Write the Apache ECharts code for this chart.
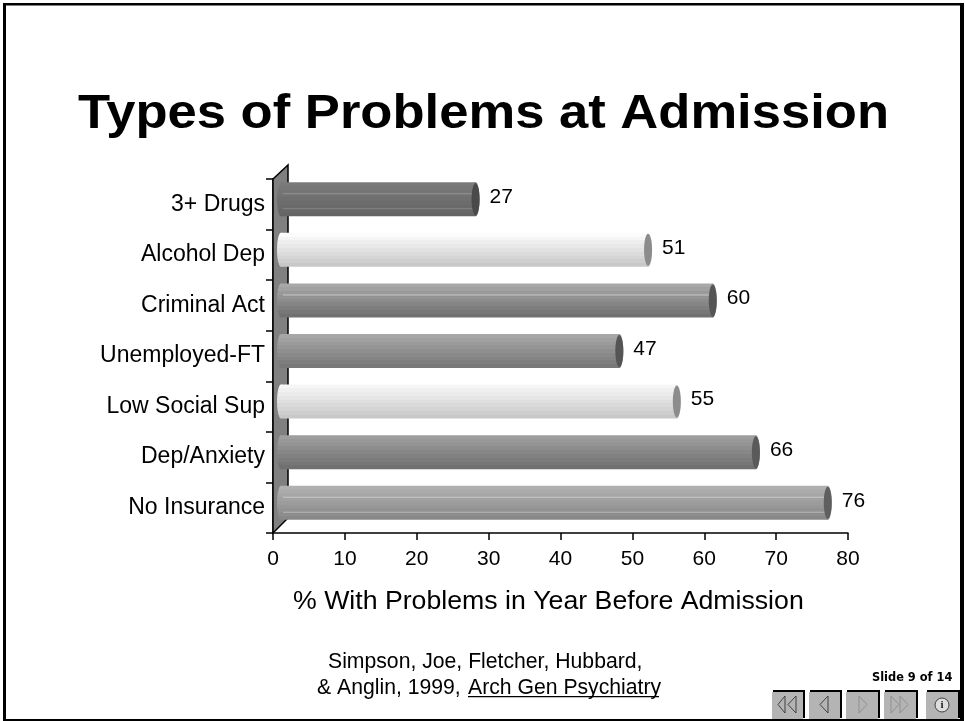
<!DOCTYPE html>
<html><head><meta charset="utf-8">
<style>html,body{margin:0;padding:0;background:#fff}#c{width:965px;height:721px}</style>
<script src="https://cdn.jsdelivr.net/npm/echarts@6/dist/echarts.min.js"></script>
</head><body><div id="c"></div>
<script>
const titleText = 'Types of Problems at Admission';
const categories = ['3+ Drugs','Alcohol Dep','Criminal Act','Unemployed-FT','Low Social Sup','Dep/Anxiety','No Insurance'];
const values = [27,51,60,47,55,66,76];
const xTicks = [0,80,10];
const xName = '% With Problems in Year Before Admission';
const cite1 = 'Simpson, Joe, Fletcher, Hubbard,';
const cite2a = '& Anglin, 1999, ';
const cite2b = 'Arch Gen Psychiatry';
const slideText = 'Slide 9 of 14';

// style tables: [top, bottom, cap, highlight]
const tones = [
  [0x7a,0x64,'#4a4a4a','#939393'],
  [0xfb,0xc8,'#8c8c8c',null],
  [0xa8,0x70,'#555555','#c8c8c8'],
  [0xa6,0x78,'#555555',null],
  [0xf6,0xc8,'#8c8c8c',null],
  [0x9e,0x70,'#5a5a5a',null],
  [0xb0,0x88,'#5f5f5f','#c8c8c8']
];
const DX = 8.5, DY = -5, DEPTH = 15, BAND = 34, RX = 4;

function stepped(top, bottom){
  const n = 9, stops = [];
  for(let k=0;k<n;k++){
    const v = Math.round(top + (bottom-top)*k/(n-1));
    const c = `rgb(${v},${v},${v})`;
    stops.push({offset:k/n,color:c},{offset:(k+1)/n,color:c});
  }
  return {type:'linear',x:0,y:0,x2:0,y2:1,colorStops:stops};
}

function renderBar(params, api){
  const i = api.value(1), v = api.value(0);
  const p0 = api.coord([0,i]), p1 = api.coord([v,i]);
  const cy = p0[1]+DY, x0 = p0[0]+4, x1 = p1[0]+DX;
  const t = tones[i], fill = stepped(t[0],t[1]), top = cy-BAND/2;
  const kids = [
    {type:'ellipse',shape:{cx:x0+RX,cy:cy,rx:RX,ry:BAND/2},style:{fill:fill}},
    {type:'ellipse',shape:{cx:x1,cy:cy,rx:RX,ry:BAND/2},style:{fill:fill}},
    {type:'rect',shape:{x:x0+RX,y:top,width:x1-x0-RX,height:BAND},style:{fill:fill}},
  ];
  if(t[3]){
    kids.push({type:'rect',shape:{x:x0+RX+2,y:top+11,width:x1-x0-RX-2,height:1},style:{fill:t[3]}});
    if(i!==2) kids.push({type:'rect',shape:{x:x0+RX+2,y:top+26,width:x1-x0-RX-2,height:1},style:{fill:t[3],opacity:.7}});
  }
  kids.push({type:'ellipse',shape:{cx:x1,cy:cy,rx:RX,ry:BAND/2-1},style:{fill:t[2]}});
  kids.push({type:'text',x:x1+14,y:cy-2,style:{text:String(values[i]),fill:'#000',font:'21px "Liberation Sans"',textAlign:'left',textVerticalAlign:'middle'}});
  return {type:'group',children:kids};
}

function renderWall(params, api){
  const c = params.coordSys, l=c.x, r=c.x+DEPTH, t=c.y, b=c.y+c.height;
  return {type:'group',children:[
    {type:'polygon',shape:{points:[[l,t],[r,t-DEPTH+1],[r,b-DEPTH],[l,b]]},style:{fill:'#808080',stroke:'#000',lineWidth:1.5}},
  ]};
}

function navButton(x,w,kids){
  return {type:'group',children:[
    {type:'polyline',shape:{points:[[x+1,691],[x+w,691],[x+w,718]]},style:{fill:null,stroke:'#000',lineWidth:2}},
    {type:'rect',shape:{x:x,y:692,width:w-1,height:27},style:{fill:'#b4b4b4'}},
  ].concat(kids)};
}
function tri(pts,c){return {type:'polygon',shape:{points:pts},style:{fill:null,stroke:c||'#404040',lineWidth:1}};}

const titleFont = 'bold 49px "Liberation Sans"';
const mctx = document.createElement('canvas').getContext('2d');
mctx.font = titleFont;
const titleScale = 811 / mctx.measureText(titleText).width;

const chart = echarts.init(document.getElementById('c'),null,{renderer:'canvas'});
chart.setOption({
  animation:false,
  backgroundColor:'#fff',
  grid:{left:273,right:117,top:179,height:354,containLabel:false},
  xAxis:{type:'value',min:xTicks[0],max:xTicks[1],interval:xTicks[2],
    axisLine:{show:true,onZero:false,lineStyle:{color:'#000',width:1.5}},
    axisTick:{show:true,length:7,lineStyle:{color:'#000',width:1.5}},
    axisLabel:{fontFamily:'Liberation Sans',fontSize:21,color:'#000',margin:16},
    splitLine:{show:false}},
  yAxis:{type:'category',inverse:true,data:categories,
    axisLine:{show:true,lineStyle:{color:'#000',width:1.5}},
    axisTick:{show:true,length:7,alignWithLabel:false,lineStyle:{color:'#000',width:1.5}},
    axisLabel:{fontFamily:'Liberation Sans',fontSize:23,color:'#000',margin:8,padding:[6,0,0,0]}},
  series:[
    {type:'custom',coordinateSystem:'cartesian2d',renderItem:renderWall,data:[[0,0]],clip:false,z:1,encode:{x:0,y:1},silent:true},
    {type:'custom',coordinateSystem:'cartesian2d',renderItem:renderBar,data:values.map((v,i)=>[v,i]),clip:false,z:2,encode:{x:0,y:1}}
  ],
  graphic:{elements:[
    {type:'rect',shape:{x:3,y:3,width:3,height:718},style:{fill:'#000'},z:50},
    {type:'rect',shape:{x:3,y:3,width:961,height:2.5},style:{fill:'#000'},z:50},
    {type:'rect',shape:{x:960,y:3,width:4,height:718},style:{fill:'#000'},z:50},
    {type:'rect',shape:{x:3,y:719,width:961,height:2},style:{fill:'#000'},z:50},
    {type:'text',x:78,y:114,scaleX:titleScale,style:{text:titleText,font:titleFont,fill:'#000',textVerticalAlign:'middle'}},
    {type:'text',left:293,top:588,style:{text:xName,font:'26.7px "Liberation Sans"',fill:'#000'}},
    {type:'text',left:328,top:652,style:{text:cite1,font:'21.2px "Liberation Sans"',fill:'#000'}},
    {type:'text',left:317,top:678,style:{text:cite2a,font:'21.2px "Liberation Sans"',fill:'#000'}},
    {type:'text',left:468,top:678,style:{text:cite2b,font:'21.2px "Liberation Sans"',fill:'#000'}},
    {type:'rect',shape:{x:468,y:696,width:191,height:1.2},style:{fill:'#000'}},
    {type:'text',left:872,top:673,style:{text:slideText,font:'bold 11.4px "DejaVu Sans"',fill:'#000'}},
    navButton(772,32,[tri([[785,696],[785,713],[778,704.5]]),tri([[796,696],[796,713],[788,704.5]])]),
    navButton(809,32,[tri([[828,696],[828,713],[820,704.5]])]),
    navButton(846,33,[tri([[859,696],[859,713],[867,704.5]],'#909090')]),
    navButton(884,33,[tri([[891,696],[891,713],[899,704.5]],'#909090'),tri([[900,696],[900,713],[908,704.5]],'#909090')]),
    navButton(926,33,[{type:'circle',shape:{cx:942,cy:705,r:7},style:{fill:'#ddd',stroke:'#404040',lineWidth:1}},
      {type:'text',x:942,y:705,style:{text:'i',font:'bold 11px "Liberation Serif"',fill:'#222',textAlign:'center',textVerticalAlign:'middle'}}])
  ]}
});
</script></body></html>
